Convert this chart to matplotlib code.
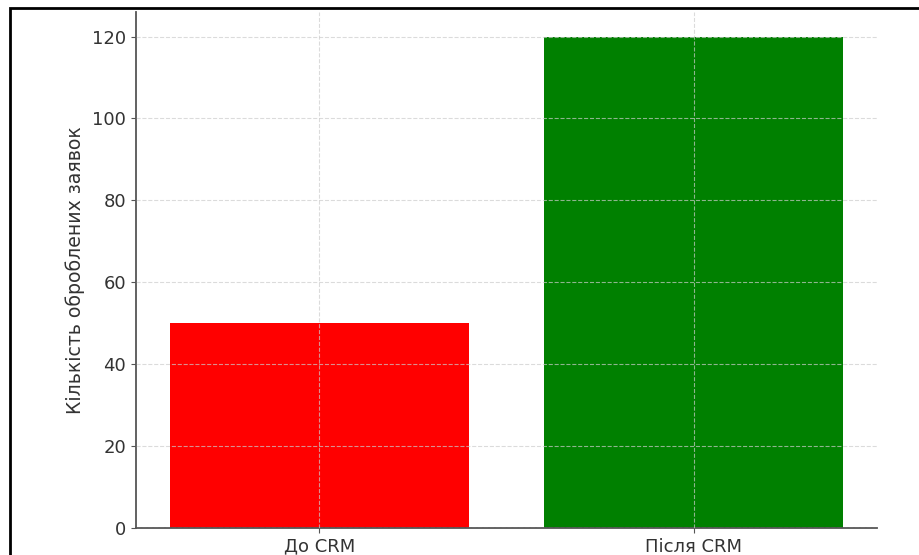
import matplotlib
matplotlib.use("Agg")
import matplotlib.pyplot as plt
from matplotlib.patches import Rectangle

categories = ["До CRM", "Після CRM"]
values = [50, 120]
colors = ["red", "green"]
ylabel = "Кількість оброблених заявок"

fig = plt.figure(figsize=(9.19, 5.55), dpi=100)
ax = fig.add_axes([136/919, 1-528/555, (877-136)/919, (528-12)/555])

ax.bar(categories, values, color=colors, width=0.8)
ax.set_ylabel(ylabel, fontsize=13.6, color="#333333", labelpad=5)
ax.grid(True, linestyle="--", color="#cccccc", linewidth=0.8, alpha=0.7)
ax.set_axisbelow(False)
for s in ["top", "right"]:
    ax.spines[s].set_visible(False)
for s in ["left", "bottom"]:
    ax.spines[s].set_color("#555555")
    ax.spines[s].set_linewidth(1.3)
ax.tick_params(axis="both", labelsize=13, colors="#555555", labelcolor="#333333")

fig.patches.append(Rectangle((10/919, -0.1), 1.2, 1 - 8/555 + 0.1, transform=fig.transFigure,
                             fill=False, edgecolor="black", linewidth=2))
fig.savefig("out.png", dpi=100)
